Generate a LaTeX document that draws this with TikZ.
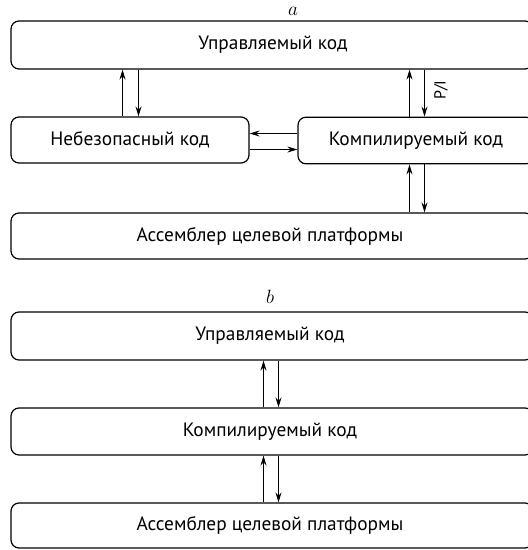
\documentclass[tikz,border=0pt]{standalone}
\usepackage{fontspec}
\setmainfont{PT Sans}
\usetikzlibrary{arrows.meta}
\begin{document}
\begin{tikzpicture}[x=0.75pt,y=-0.75pt,
  txt/.style={font=\fontsize{14.5}{16}\selectfont},
  box/.style={draw, rounded corners=6pt, line width=0.9pt, inner sep=0pt, txt},
  wide/.style={box, minimum width=391.5pt},
  arr/.style={-{Stealth[length=7.5pt,width=4.5pt,inset=2.5pt]}, line width=0.8pt},
  lbl/.style={font=\fontsize{15}{17}\selectfont, inner sep=0pt}]
\useasboundingbox (0,0) rectangle (528,550);
\clip (0,0) rectangle (528,550);
% ---------- a ----------
\node[lbl] (la) at (293,11) {$a$};
\node[wide, minimum height=36pt] (at) at (272,45) {};
\node[txt] (att) at (273,45) {Управляемый код};
\node[box, minimum width=178.5pt, minimum height=34.5pt] (al) at (130,140) {Небезопасный код};
\node[box, minimum width=177pt, minimum height=35pt] (ar) at (416,140.5) {Компилируемый код};
\node[wide, minimum height=34.5pt] (ab) at (272,236) {};
\node[txt] (abt) at (270,236) {Ассемблер целевой платформы};
\coordinate (x1) at (122.5,0);
\coordinate (x2) at (138.5,0);
\coordinate (x3) at (409.5,0);
\coordinate (x4) at (424.5,0);
\coordinate (y1) at (0,133.5);
\coordinate (y2) at (0,149.5);
\draw[arr] (al.north -| x1) -- (at.south -| x1);
\draw[arr] (at.south -| x2) -- (al.north -| x2);
\draw[arr] (ar.north -| x3) -- (at.south -| x3);
\draw[arr] (at.south -| x4) -- (ar.north -| x4);
\node[rotate=90, font=\fontsize{12}{14}\selectfont, inner sep=0pt] (pi) at (441,90) {P/I};
\draw[arr] (ar.west |- y1) -- (al.east |- y1);
\draw[arr] (al.east |- y2) -- (ar.west |- y2);
\draw[arr] (ab.north -| x3) -- (ar.south -| x3);
\draw[arr] (ar.south -| x4) -- (ab.north -| x4);
% ---------- b ----------
\node[lbl] (lb) at (270,297) {$b$};
\node[wide, minimum height=36pt] (b1) at (272,336) {};
\node[txt] (b1t) at (270,336) {Управляемый код};
\node[wide, minimum height=35.25pt] (b2) at (272,431.5) {};
\node[txt] (b2t) at (270,431.5) {Компилируемый код};
\node[wide, minimum height=33.75pt] (b3) at (272,525.5) {};
\node[txt] (b3t) at (270,525.5) {Ассемблер целевой платформы};
\coordinate (x5) at (263.5,0);
\coordinate (x6) at (278.5,0);
\draw[arr] (b2.north -| x5) -- (b1.south -| x5);
\draw[arr] (b1.south -| x6) -- (b2.north -| x6);
\draw[arr] (b3.north -| x5) -- (b2.south -| x5);
\draw[arr] (b2.south -| x6) -- (b3.north -| x6);
\end{tikzpicture}
\end{document}
